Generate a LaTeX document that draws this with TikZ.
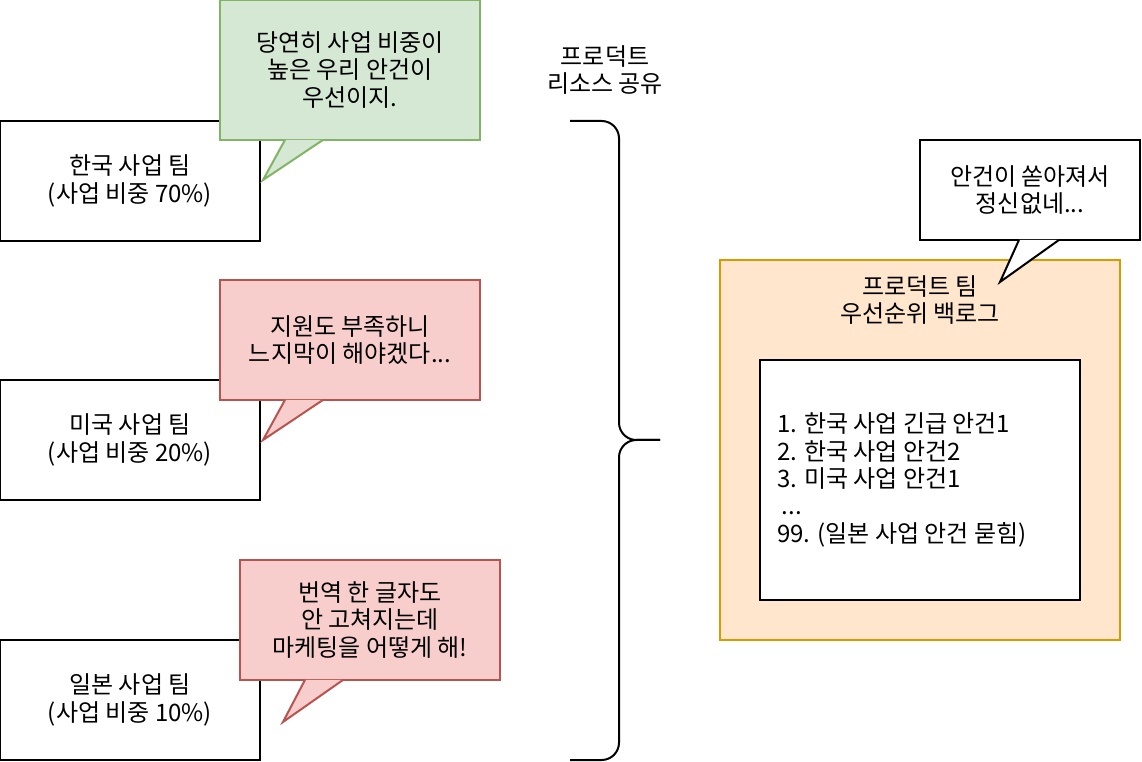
\documentclass[tikz,border=0pt]{standalone}
\usepackage{fontspec}
\setmainfont{Noto Sans CJK KR}
\usetikzlibrary{positioning}
\definecolor{greenfill}{HTML}{D5E8D4}
\definecolor{greenline}{HTML}{82B366}
\definecolor{redfill}{HTML}{F8CECC}
\definecolor{redline}{HTML}{B85450}
\definecolor{orangefill}{HTML}{FFE6CC}
\definecolor{orangeline}{HTML}{D79B00}

\begin{document}
\begin{tikzpicture}[
  x=0.75pt, y=-0.75pt,
  every node/.style={font=\fontsize{18}{20.5}\selectfont, align=center},
  team/.style={draw, line width=1.5pt, minimum width=195pt, minimum height=90pt},
  msg/.style={draw, line width=1.5pt, minimum width=195pt, minimum height=90pt},
  okmsg/.style={msg, fill=greenfill, draw=greenline},
  badmsg/.style={msg, fill=redfill, draw=redline},
  tail/.style={line width=1.5pt, line join=miter}
]
  \useasboundingbox (0,0) rectangle (1142,762);

  % Business teams (left)
  \node[team] (korea) at (130,181) {한국 사업 팀\\(사업 비중 70\%)};
  \node[team] (usa) at (130,440) {미국 사업 팀\\(사업 비중 20\%)};
  \node[team] (japan) at (130,700) {일본 사업 팀\\(사업 비중 10\%)};

  % Speech bubbles of the teams
  \coordinate (koreatip) at (263,180);
  \coordinate (usatip) at (263,440);
  \coordinate (japantip) at (283,722);

  \node[okmsg, minimum height=105pt] (koreamsg) at (350,70) {당연히 사업 비중이\\높은 우리 안건이\\우선이지.};
  \filldraw[tail, fill=greenfill, draw=greenline]
    ([xshift=49.5pt, yshift=0.8pt]koreamsg.south west) -- (koreatip) -- ([xshift=78pt, yshift=0.8pt]koreamsg.south west);

  \node[badmsg] (usamsg) at (350,340) {지원도 부족하니\\느지막이 해야겠다...};
  \filldraw[tail, fill=redfill, draw=redline]
    ([xshift=49.5pt, yshift=0.8pt]usamsg.south west) -- (usatip) -- ([xshift=78pt, yshift=0.8pt]usamsg.south west);

  \node[badmsg] (japanmsg) at (370,620) {번역 한 글자도\\안 고쳐지는데\\마케팅을 어떻게 해!};
  \filldraw[tail, fill=redfill, draw=redline]
    ([xshift=49.5pt, yshift=0.8pt]japanmsg.south west) -- (japantip) -- ([xshift=78pt, yshift=0.8pt]japanmsg.south west);

  % Shared product resource
  \coordinate (bracetop) at (570,121);
  \coordinate (bracebot) at (570,760);
  \coordinate (bracetip) at (660,440);
  \draw[line width=1.5pt, rounded corners=13pt] (bracetop) -- ++(49,0) |- (bracetip);
  \draw[line width=1.5pt, rounded corners=13pt] (bracebot) -- ++(49,0) |- (bracetip);
  \node (shared) at (605,70) {프로덕트\\리소스 공유};

  % Product team backlog (right)
  \node[draw=orangeline, fill=orangefill, line width=1.5pt, minimum width=300pt, minimum height=285pt] (backlog) at (920,450) {};
  \node (backlogtitle) at (920,300) {프로덕트 팀\\우선순위 백로그};
  \node[draw, fill=white, line width=1.5pt, minimum width=240pt, minimum height=180pt] (listbox) at (920,480) {};
  \node[anchor=west, align=left, xshift=10pt] (listtext) at (listbox.west)
    {1. 한국 사업 긴급 안건1\\2. 한국 사업 안건2\\3. 미국 사업 안건1\\\hspace{0.2em}...\\99. (일본 사업 안건 묻힘)};

  % Product team bubble
  \coordinate (backlogtip) at (1000,282);
  \node[msg, fill=white, minimum width=165pt, minimum height=75pt] (busymsg) at (1030,190) {안건이 쏟아져서\\정신없네...};
  \filldraw[tail, fill=white]
    ([xshift=75pt, yshift=0.8pt]busymsg.south west) -- (backlogtip) -- ([xshift=105pt, yshift=0.8pt]busymsg.south west);

\end{tikzpicture}
\end{document}
